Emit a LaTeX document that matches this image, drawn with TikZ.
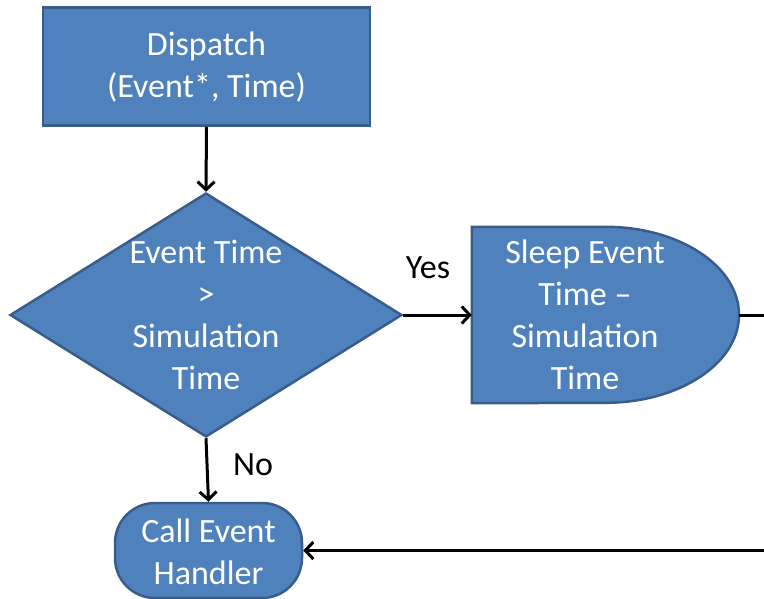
\documentclass[tikz,border=0pt]{standalone}
\usepackage{fontspec}
\setmainfont{Carlito}
\usetikzlibrary{shapes.geometric,arrows.meta}
\definecolor{boxfill}{HTML}{4F81BD}
\definecolor{boxline}{HTML}{385D8A}
\tikzset{
  shapebox/.style={fill=boxfill, draw=boxline, line width=2.5pt},
  boxtext/.style={text=white, align=center, inner sep=0pt, font=\fontsize{34}{42}\selectfont},
  labeltext/.style={text=black, inner sep=0pt, font=\fontsize{34}{42}\selectfont},
  conn/.style={draw=black, line width=3pt, -{Straight Barb[length=8pt,width=17pt,line width=3pt]}},
}
\begin{document}
\begin{tikzpicture}[x=1pt,y=-1pt]
\useasboundingbox (0,0) rectangle (764,599);
% Dispatch box
\node[shapebox, rectangle, minimum width=327pt, minimum height=118pt, inner sep=0pt] (dispatch) at (206.5,66.5) {};
\node[boxtext] (dispatchtxt) at (206.5,67) {Dispatch\\(Event*, Time)};
% Decision diamond
\node[shapebox, diamond, minimum width=392pt, minimum height=244pt, inner sep=0pt] (decide) at (206,315) {};
\node[boxtext] (decidetxt) at (206,314.5) {Event Time\\>\\Simulation\\Time};
% Sleep (delay shape)
\node[rectangle, minimum width=267pt, minimum height=176pt, inner sep=0pt] (sleep) at (605.5,315) {};
\draw[shapebox] (sleep.north west) -- (sleep.north) arc[start angle=90, end angle=-90, x radius=133.5pt, y radius=88pt] -- (sleep.south west) -- cycle;
\node[boxtext] (sleeptxt) at (585,314.5) {Sleep Event\\Time --\\Simulation\\Time};
% Call event handler
\node[shapebox, rectangle, rounded corners=40pt, minimum width=187pt, minimum height=95pt, inner sep=0pt] (handler) at (208.5,550.5) {};
\node[boxtext] (handlertxt) at (208.5,552) {Call Event\\Handler};
% Connectors
\draw[conn] (dispatch.south) -- (decide.north);
\draw[conn] (decide.east) -- (sleep.west);
\draw[conn] (decide.south) -- (handler.north);
\coordinate (rightturn) at (790,315);
\draw[conn] (sleep.east) -- (rightturn) |- (handler.east);
% Labels
\node[labeltext] (yes) at (428,268) {Yes};
\node[labeltext] (no) at (253,465) {No};
\end{tikzpicture}
\end{document}
